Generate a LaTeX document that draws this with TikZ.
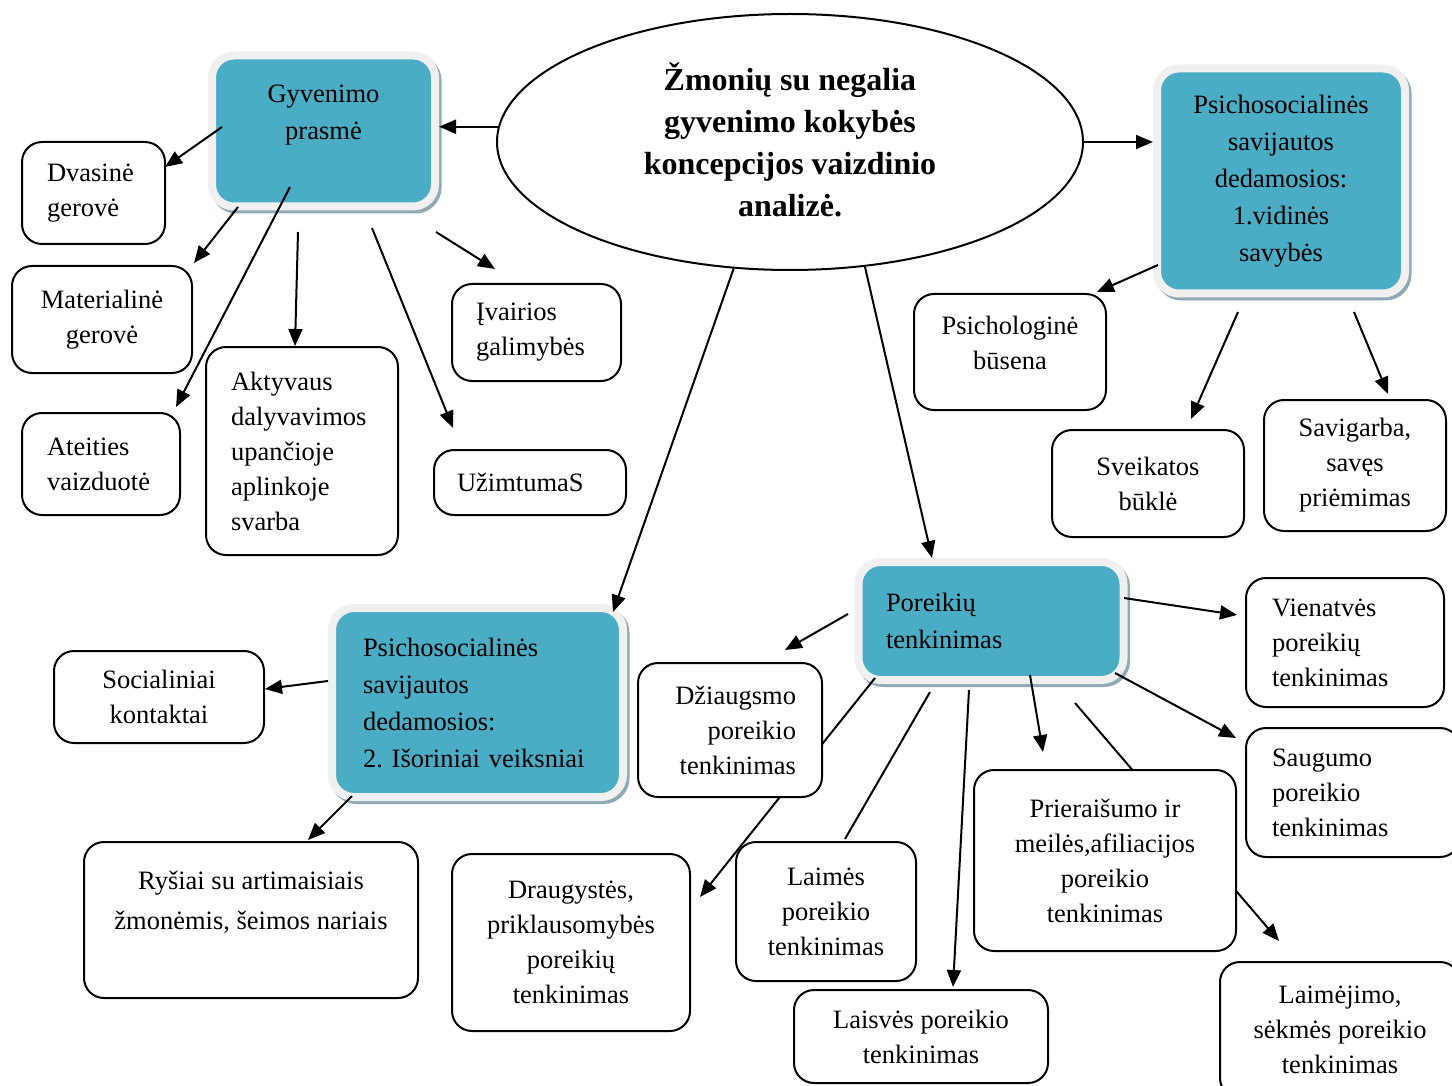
\documentclass[tikz,border=0pt]{standalone}
\usepackage{fontspec}
\setmainfont{Liberation Serif}
\usetikzlibrary{arrows.meta,calc,shapes.geometric}

\definecolor{boxblue}{HTML}{4BACC6}
\definecolor{rimgray}{HTML}{F0F0F0}
\definecolor{shadegray}{HTML}{8FAAB6}

\pgfdeclarelayer{back}
\pgfdeclarelayer{mid}
\pgfsetlayers{back,mid,main}

\begin{document}
\frenchspacing
\begin{tikzpicture}[x=1pt,y=-1pt,
  every node/.style={font=\fontsize{26.5}{35}\selectfont},
  wbox/.style={draw=black, line width=2pt, fill=white, rounded corners=20pt,
    inner sep=0pt, align=center},
  bbox/.style={draw=rimgray, line width=8pt, fill=boxblue, rounded corners=22pt,
    inner sep=0pt, align=center, font=\fontsize{26.5}{37}\selectfont,
    preaction={draw=shadegray, line width=8pt,
      transform canvas={xshift=2.5pt,yshift=-3pt}}},
  arr/.style={line width=2pt, -{Triangle[length=17pt,width=14pt]}},
  link/.style={line width=2pt},
]
\useasboundingbox (0,0) rectangle (1452,1086);

% central topic
\node[ellipse, draw, line width=2pt, minimum width=586pt, minimum height=256pt,
  inner sep=0pt, align=center, font=\bfseries\fontsize{32}{42}\selectfont]
  (ell) at (790,142) {Žmonių su negalia\\gyvenimo kokybės\\koncepcijos vaizdinio\\analizė.\\[-38pt]\mbox{}};

% main categories
\begin{pgfonlayer}{back}
\node[bbox, minimum width=223pt, minimum height=151pt] (gyv) at (323.5,131)
  {Gyvenimo\\prasmė\\\mbox{}};
\node[bbox, minimum width=248pt, minimum height=225pt] (ps1) at (1281,181)
  {Psichosocialinės\\savijautos\\dedamosios:\\1.vidinės\\savybės};
\node[bbox, minimum width=291pt, minimum height=189pt, align=left, text width=229pt]
  (ps2) at (477.5,702.5)
  {Psichosocialinės\\savijautos\\dedamosios:\\2. Išoriniai veiksniai};
\node[bbox, minimum width=265pt, minimum height=118pt, align=left, text width=210pt]
  (por) at (991,621) {Poreikių\\tenkinimas};
\end{pgfonlayer}

% sub-items
\node[wbox, minimum width=143pt, minimum height=102pt, align=left, text width=93pt]
  (dva) at (93.5,193) {Dvasinė\\gerovė};
\node[wbox, minimum width=180pt, minimum height=107pt] (mat) at (102,319.5)
  {Materialinė\\gerovė};
\node[wbox, minimum width=158pt, minimum height=102pt, align=left, text width=108pt]
  (ate) at (101,464) {Ateities\\vaizduotė};
\node[wbox, minimum width=192pt, minimum height=208pt, align=left, text width=142pt]
  (akt) at (302,451) {Aktyvaus\\dalyvavimos\\upančioje\\aplinkoje\\svarba};
\node[wbox, minimum width=169pt, minimum height=97pt, align=left, text width=121pt]
  (iva) at (536.5,332.5) {Įvairios\\galimybės};
\node[wbox, minimum width=192pt, minimum height=65pt, align=left, text width=146pt]
  (uzi) at (530,482.5) {UžimtumaS};

\node[wbox, minimum width=192pt, minimum height=116pt] (psl) at (1010,352)
  {Psichologinė\\būsena\\[-17pt]\mbox{}};
\node[wbox, minimum width=192pt, minimum height=107pt] (sve) at (1148,483.5)
  {Sveikatos\\būklė};
\node[wbox, minimum width=182pt, minimum height=131pt] (sav) at (1355,465.5)
  {Savigarba,\\savęs\\priėmimas};

\node[wbox, minimum width=210pt, minimum height=92pt] (soc) at (159,697)
  {Socialiniai\\kontaktai};
\node[wbox, minimum width=334pt, minimum height=156pt,
  font=\fontsize{26.5}{40}\selectfont] (rys) at (251,920)
  {Ryšiai su artimaisiais\\žmonėmis, šeimos nariais\\\mbox{}};

\node[wbox, minimum width=184pt, minimum height=134pt, align=right, text width=132pt]
  (dzi) at (730,730) {Džiaugsmo\\poreikio\\tenkinimas};
\node[wbox, minimum width=238pt, minimum height=177pt] (dra) at (571,942.5)
  {Draugystės,\\priklausomybės\\poreikių\\tenkinimas};
\node[wbox, minimum width=180pt, minimum height=139pt] (lai) at (826,911.5)
  {Laimės\\poreikio\\tenkinimas};
\node[wbox, minimum width=254pt, minimum height=93pt] (lsv) at (921,1036.5)
  {Laisvės poreikio\\tenkinimas};
\node[wbox, minimum width=262pt, minimum height=181pt] (pri) at (1105,860.5)
  {Prieraišumo ir\\meilės,afiliacijos\\poreikio\\tenkinimas};
\node[wbox, minimum width=198pt, minimum height=129pt, align=left, text width=146pt]
  (vie) at (1345,642.5) {Vienatvės\\poreikių\\tenkinimas};
\node[wbox, minimum width=214pt, minimum height=129pt, align=left, text width=162pt]
  (sau) at (1353,792.5) {Saugumo\\poreikio\\tenkinimas};
\node[wbox, minimum width=240pt, minimum height=136pt] (lmj) at (1340,1030)
  {Laimėjimo,\\sėkmės poreikio\\tenkinimas};

% connectors
\begin{pgfonlayer}{mid}
\draw[arr] (ell.177) -- (ell.177 -| gyv.east);
\draw[arr] (ell.east) -- (ell.east -| ps1.west);
\draw[arr] (ell.246) -- ($(ps2.center)+(135.5,-90.5)$);
\draw[arr] (ell.301) -- ($(por.north)+(-59,0)$);

\draw[arr] ($(gyv.center)+(-101.5,-4)$) -- ($(dva.center)+(71.5,-26)$);
\draw[arr] ($(gyv.center)+(-85.5,76)$) -- ($(mat.north east)+(1,-2)$);
\draw[arr] ($(gyv.center)+(-33.5,56)$) -- ($(ate.north east)+(-5,-5)$);
\draw[arr] ($(gyv.center)+(-25.5,101)$) -- ($(akt.north)+(-7,0)$);
\draw[arr] ($(gyv.center)+(48.5,97)$) -- ($(uzi.center)+(-77,-54.5)$);
\draw[arr] ($(gyv.center)+(112.5,101)$) -- ($(iva.center)+(-41.5,-63.5)$);

\draw[arr] ($(ps1.center)+(-123,84)$) -- ($(psl.north east)+(-10,-1)$);
\draw[arr] ($(ps1.center)+(-43,131)$) -- ($(sve.north)+(43,-10)$);
\draw[arr] ($(ps1.center)+(73,131)$) -- ($(sav.north)+(33,-5)$);

\draw[arr] ($(ps2.center)+(-149.5,-21.5)$) -- ($(soc.east)+(0,-8)$);
\draw[arr] ($(ps2.center)+(-125.5,93.5)$) -- ($(rys.north)+(57,-1)$);

\draw[arr] ($(por.center)+(-143,-7)$) -- ($(dzi.north)+(55,-12)$);
\draw[arr] ($(por.center)+(-116,57)$) -- ($(dra.center)+(129,-45.5)$);
\draw[link] ($(por.center)+(-61,71)$) -- ($(lai.north)+(19,-2)$);
\draw[arr] ($(por.center)+(-22,69)$) -- ($(lsv.north)+(32,-2)$);
\draw[arr] ($(por.center)+(39,54)$) -- ($(pri.north)+(-62,-17)$);
\draw[arr] ($(por.center)+(84,82)$) -- ($(lmj.center)+(-61,-89)$);
\draw[arr] ($(por.center)+(133,-23)$) -- ($(vie.west)+(-8,-27.5)$);
\draw[arr] ($(por.center)+(124,52)$) -- ($(sau.west)+(-9,-54.5)$);
\end{pgfonlayer}
\end{tikzpicture}
\end{document}
